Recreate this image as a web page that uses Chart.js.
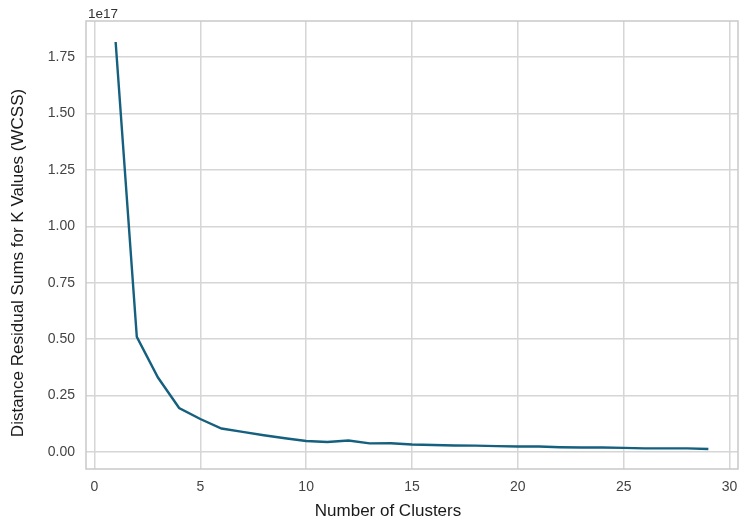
<!DOCTYPE html>
<html>
<head>
<meta charset="utf-8">
<script src="https://cdn.jsdelivr.net/npm/chart.js@4"></script>
<style>
  html, body { margin: 0; padding: 0; background: #ffffff; }
  #wrap { width: 750px; height: 524px; }
</style>
</head>
<body>
<div id="wrap"><canvas id="elbow-chart" width="750" height="524"></canvas></div>
<script>
// K values and WCSS (in units of 1e17)
const kValues = [1, 2, 3, 4, 5, 6, 7, 8, 9, 10, 11, 12, 13, 14, 15, 16, 17, 18, 19, 20, 21, 22, 23, 24, 25, 26, 27, 28, 29];
const wcss = [1.817, 0.51, 0.33, 0.195, 0.146, 0.104, 0.089, 0.074, 0.061, 0.049, 0.044, 0.051, 0.038, 0.039, 0.033, 0.031, 0.029, 0.028, 0.026, 0.024, 0.024, 0.021, 0.020, 0.020, 0.018, 0.016, 0.016, 0.016, 0.013];
const xTicks = [0, 5, 10, 15, 20, 25, 30];
const yTicks = [0, 0.25, 0.5, 0.75, 1.0, 1.25, 1.5, 1.75];
const xTitle = 'Number of Clusters';
const yTitle = 'Distance Residual Sums for K Values (WCSS)';
const offsetText = '1e17';

const fontFamily = '"Liberation Sans", Arial, sans-serif';
const gridColor = '#d6d6d6';

const framePlugin = {
    id: 'frame',
    afterDraw(chart) {
        const ctx = chart.ctx;
        const a = chart.chartArea;
        ctx.save();
        ctx.strokeStyle = '#c9c9c9';
        ctx.lineWidth = 1.5;
        ctx.strokeRect(a.left, a.top, a.right - a.left, a.bottom - a.top);

        ctx.fillStyle = '#333333';
        ctx.font = '13.5px ' + fontFamily;
        ctx.textAlign = 'left';
        ctx.textBaseline = 'alphabetic';
        ctx.fillText(offsetText, a.left + 2, a.top - 3);

        ctx.fillStyle = '#1a1a1a';
        ctx.font = '17px ' + fontFamily;
        ctx.textAlign = 'center';
        ctx.textBaseline = 'middle';
        ctx.fillText(xTitle, 388, 511);

        ctx.translate(18, 263);
        ctx.rotate(-Math.PI / 2);
        ctx.fillText(yTitle, 0, 0);
        ctx.restore();
    }
};

const ctx = document.getElementById('elbow-chart').getContext('2d');
const chart = new Chart(ctx, {
    type: 'line',
    data: {
        datasets: [{
            label: 'WCSS',
            data: kValues.map((k, i) => ({ x: k, y: wcss[i] })),
            borderColor: '#15607e',
            borderWidth: 2.4,
            pointRadius: 0,
            tension: 0,
            fill: false
        }]
    },
    options: {
        responsive: false,
        animation: false,
        devicePixelRatio: 1,
        layout: { padding: { top: 21, right: 12, left: 0, bottom: 0 } },
        plugins: {
            legend: { display: false },
            tooltip: { enabled: false }
        },
        scales: {
            x: {
                type: 'linear',
                min: -0.4,
                max: 30.4,
                afterBuildTicks: (scale) => { scale.ticks = xTicks.map(v => ({ value: v })); },
                afterFit: (scale) => { scale.height = 55; },
                grid: { color: gridColor, lineWidth: 1.5, drawTicks: false },
                border: { display: false },
                ticks: {
                    padding: 10,
                    color: '#444444',
                    font: { family: fontFamily, size: 14 },
                    maxRotation: 0,
                    callback: (v) => String(v)
                }
            },
            y: {
                type: 'linear',
                min: -0.0754,
                max: 1.91,
                afterBuildTicks: (scale) => { scale.ticks = yTicks.map(v => ({ value: v })); },
                afterFit: (scale) => { scale.width = 86; },
                grid: { color: gridColor, lineWidth: 1.5, drawTicks: false },
                border: { display: false },
                ticks: {
                    padding: 11,
                    color: '#444444',
                    font: { family: fontFamily, size: 14 },
                    callback: (v) => v.toFixed(2)
                }
            }
        }
    },
    plugins: [framePlugin]
});
</script>
</body>
</html>
